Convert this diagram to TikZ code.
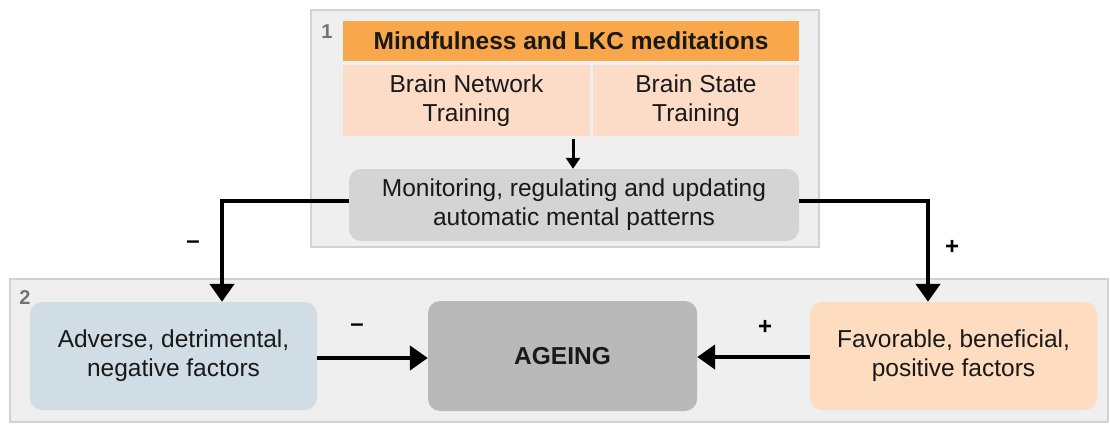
\documentclass[tikz,border=0pt]{standalone}
\usepackage{fontspec}
\setmainfont{Liberation Sans}
\usetikzlibrary{arrows.meta,calc}
\definecolor{panelbg}{HTML}{EFEFEF}
\definecolor{panelln}{HTML}{D2D2D2}
\definecolor{hdr}{HTML}{F8A84A}
\definecolor{peach}{HTML}{FDDCC7}
\definecolor{gbox}{HTML}{D4D4D4}
\definecolor{bluebox}{HTML}{D0DDE4}
\definecolor{agebox}{HTML}{B9B9B9}
\definecolor{favbox}{HTML}{FDDCC0}
\begin{document}
\begin{tikzpicture}[x=1pt,y=-1pt,
  txt/.style={font=\fontsize{24.5}{29}\selectfont, align=center, text=black!90},
  panel/.style={draw=panelln, fill=panelbg, line width=1.5pt},
  flat/.style={txt, inner sep=0pt},
  rbox/.style={txt, rounded corners=12pt, inner sep=0pt},
  bigarrow/.style={line width=4.5pt, -{Triangle[length=18pt,width=24pt]}},
  sign/.style={font=\fontsize{24}{26}\selectfont\bfseries},
  numlbl/.style={font=\fontsize{20}{22}\selectfont\bfseries, text=black!55}
]
\useasboundingbox (0,0) rectangle (1110,425);
% panels
\node[panel, minimum width=508pt, minimum height=237pt, inner sep=0pt] (p1) at (565,128.5) {};
\node[panel, minimum width=1098pt, minimum height=143pt, inner sep=0pt] (p2) at (559,350.5) {};
\node[numlbl] (n1) at (327,32) {1};
\node[numlbl] (n2) at (25,298) {2};
% panel 1 contents
\node[flat, fill=hdr, minimum width=456pt, minimum height=40pt, font=\fontsize{24.5}{29}\selectfont\bfseries] (hdr) at (571,41) {Mindfulness and LKC meditations};
\node[flat, fill=peach, minimum width=247pt, minimum height=71pt] (bnt) at (466.5,100.5) {Brain Network\\Training};
\node[flat, fill=peach, minimum width=206pt, minimum height=71pt] (bst) at (696,100.5) {Brain State\\Training};
\node[rbox, fill=gbox, minimum width=450pt, minimum height=72pt] (mon) at (574,205) {Monitoring, regulating and updating\\automatic mental patterns};
\coordinate (sa) at (573,139);
\draw[line width=3pt, -{Triangle[length=11pt,width=14pt]}] (sa) -- (mon.north -| sa);
% panel 2 contents
\node[rbox, fill=bluebox, minimum width=287pt, minimum height=108pt] (adv) at (173.5,356) {Adverse, detrimental,\\negative factors};
\node[rbox, fill=agebox, minimum width=269pt, minimum height=110pt, font=\fontsize{24.5}{29}\selectfont\bfseries] (age) at (562.5,356) {AGEING};
\node[rbox, fill=favbox, minimum width=287pt, minimum height=108pt] (fav) at (953.5,356) {Favorable, beneficial,\\positive factors};
% connectors
\draw[bigarrow] ([yshift=4pt]mon.west) -| ([xshift=48.5pt]adv.north);
\draw[bigarrow] ([yshift=4pt]mon.east) -| ([xshift=-25.5pt]fav.north);
\draw[bigarrow] (adv.east |- 0,358) -- (age.west |- 0,358);
\draw[bigarrow] (fav.west |- 0,357) -- (age.east |- 0,357);
% signs
\node[sign] (s1) at (193,245) {--};
\node[sign] (s2) at (952,247) {+};
\node[sign] (s3) at (357,328) {--};
\node[sign] (s4) at (765,327) {+};
\end{tikzpicture}
\end{document}
